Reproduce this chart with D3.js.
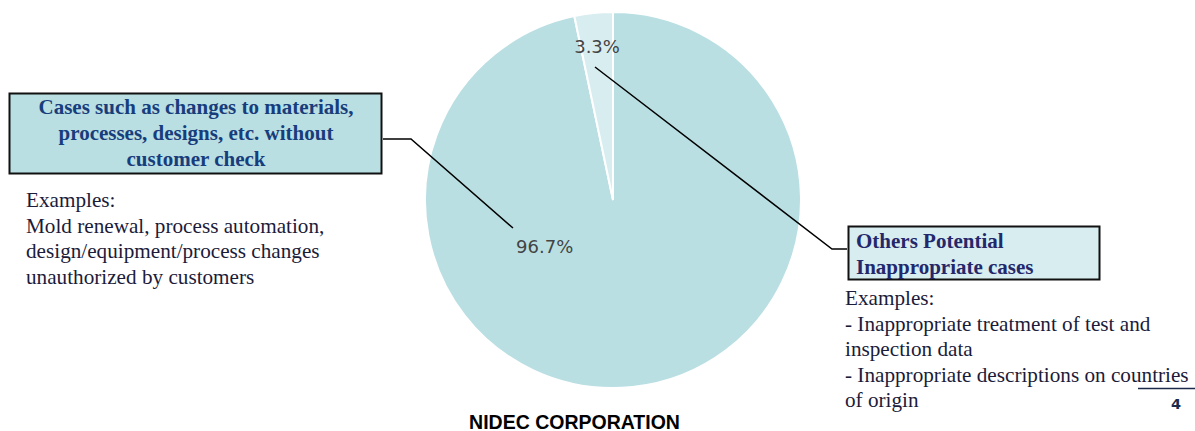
<!DOCTYPE html>
<meta charset="utf-8">
<style>
    body { margin: 0; background: #fff; }
    .pct { font: 18px "DejaVu Sans", sans-serif; fill: #444; }
    .box-title { font: bold 21px "Liberation Serif", serif; }
    .examples { font: 21.2px "Liberation Serif", serif; fill: #1b1b3a; }
</style>
<body>
<script src="https://cdn.jsdelivr.net/npm/d3@7"></script>
<script>
    var categories = ["Cases such as changes to materials, processes, designs, etc. without customer check",
                      "Others Potential Inappropriate cases"];
    var shares = [96.7, 3.3];
    var sliceColors = ["#b9dfe3", "#d8edf0"];
    var leftTitle = ["Cases such as changes to materials,", "processes, designs, etc. without", "customer check"];
    var leftExamples = ["Examples:", "Mold renewal, process automation,", "design/equipment/process changes", "unauthorized by customers"];
    var rightTitle = ["Others Potential", "Inappropriate cases"];
    var rightExamples = ["Examples:", "- Inappropriate treatment of test and", "inspection data", "- Inappropriate descriptions on countries", "of origin"];

    var width = 1195, height = 431,
        cx = 613, cy = 200, radius = 188;

    var svg = d3.select("body").append("svg")
            .attr("width", width)
            .attr("height", height);

    var pie = d3.pie().sort(null).value(function(d) { return d; });
    var arc = d3.arc().innerRadius(0).outerRadius(radius);
    var slices = pie(shares);

    var g = svg.append("g").attr("transform", "translate(" + cx + "," + cy + ")");
    g.selectAll("path")
        .data(slices)
        .enter().append("path")
        .attr("d", arc)
        .attr("fill", function(d, i) { return sliceColors[i]; })
        .attr("stroke", "#fff")
        .attr("stroke-width", 2);

    // percent labels (big one is pushed to the upper left, like the original)
    function labelPos(d, i) {
        if (i === 0) return d3.pointRadial(-2.17, radius * 0.44);
        var mid = (d.startAngle + d.endAngle) / 2;
        return d3.pointRadial(mid, radius * 0.82);
    }
    g.selectAll("text.pct")
        .data(slices)
        .enter().append("text")
        .attr("class", "pct")
        .attr("text-anchor", "middle")
        .attr("dy", "0.35em")
        .attr("transform", function(d, i) { return "translate(" + labelPos(d, i) + ")"; })
        .text(function(d) { return d.data.toFixed(1) + "%"; });

    // leader lines
    svg.append("polyline")
        .attr("points", "383,139 411,139 513,228")
        .attr("fill", "none").attr("stroke", "#000").attr("stroke-width", 1.5);
    svg.append("polyline")
        .attr("points", "595,67 832,249 847,249")
        .attr("fill", "none").attr("stroke", "#000").attr("stroke-width", 1.5);

    // left box
    svg.append("rect")
        .attr("x", 9.5).attr("y", 93.5).attr("width", 372).attr("height", 80)
        .attr("fill", "#b9dfe3").attr("stroke", "#111").attr("stroke-width", 2);
    svg.append("g").selectAll("text")
        .data(leftTitle)
        .enter().append("text")
        .attr("class", "box-title")
        .attr("fill", "#173d7c")
        .attr("text-anchor", "middle")
        .attr("x", 196)
        .attr("y", function(d, i) { return 114 + i * 26; })
        .text(function(d) { return d; });

    svg.append("g").selectAll("text")
        .data(leftExamples)
        .enter().append("text")
        .attr("class", "examples")
        .attr("x", 26)
        .attr("y", function(d, i) { return 207 + i * 25.7; })
        .text(function(d) { return d; });

    // right box
    svg.append("rect")
        .attr("x", 848.5).attr("y", 226.5).attr("width", 251).attr("height", 53)
        .attr("fill", "#d8edf0").attr("stroke", "#111").attr("stroke-width", 2);
    svg.append("g").selectAll("text")
        .data(rightTitle)
        .enter().append("text")
        .attr("class", "box-title")
        .attr("fill", "#24286b")
        .attr("x", 856)
        .attr("y", function(d, i) { return 248 + i * 26; })
        .text(function(d) { return d; });

    svg.append("g").selectAll("text")
        .data(rightExamples)
        .enter().append("text")
        .attr("class", "examples")
        .attr("x", 845)
        .attr("y", function(d, i) { return 305 + i * 25.6; })
        .text(function(d) { return d; });

    // footer
    svg.append("line")
        .attr("x1", 1138).attr("x2", 1195).attr("y1", 388.5).attr("y2", 388.5)
        .attr("stroke", "#1b2a4a").attr("stroke-width", 1.5);
    svg.append("text")
        .attr("x", 1176).attr("y", 408.5)
        .attr("text-anchor", "middle")
        .style("font", "bold 14.5px 'DejaVu Sans', sans-serif")
        .attr("fill", "#1b2a4a")
        .text("4");
    svg.append("text")
        .attr("x", 574.5).attr("y", 428.5)
        .attr("text-anchor", "middle")
        .style("font", "bold 19.5px 'Liberation Sans', Arial, sans-serif")
        .attr("fill", "#000")
        .text("NIDEC CORPORATION");
</script>
